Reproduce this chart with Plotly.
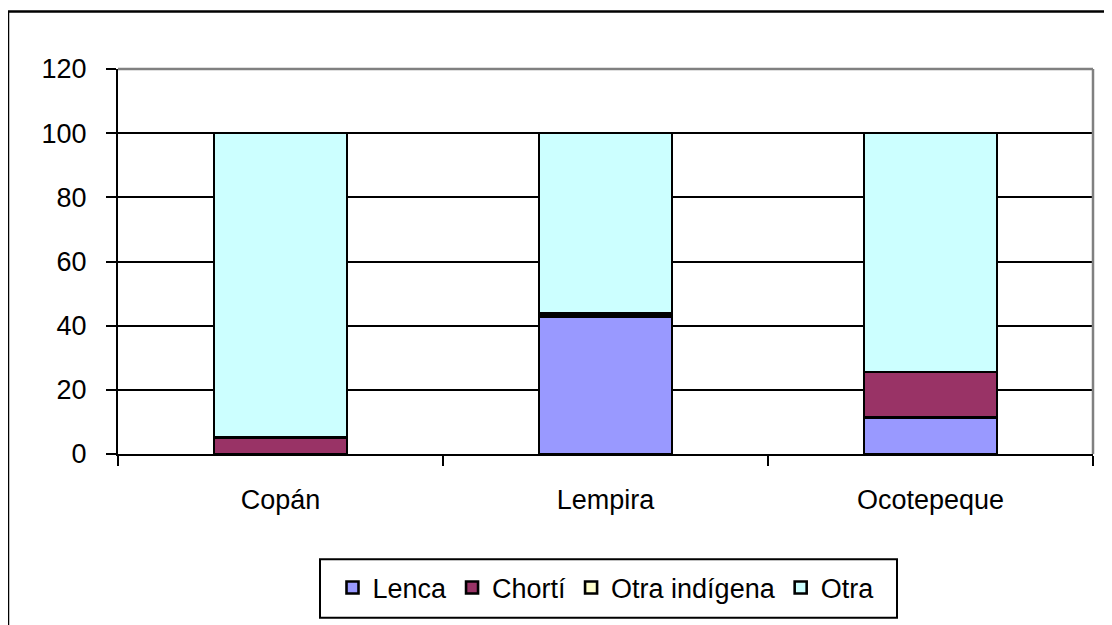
import plotly.graph_objects as go

categories = ["Copán", "Lempira", "Ocotepeque"]
series_names = ["Lenca", "Chortí", "Otra indígena", "Otra"]
lenca = [0, 42.8, 11.4]
chorti = [5.2, 1.0, 14.2]
otra_indigena = [0, 0, 0]
otra = [94.8, 56.2, 74.4]
y_ticks = [0, 20, 40, 60, 80, 100, 120]
colors = ["#9999FF", "#993366", "#FFFFCC", "#CCFFFF"]

OFF = 8  # page body margin
W, H = 1104, 617
# plot area in page pixels: left 118, right 1093, top 69, bottom 457
L, T = 118 - OFF, 69 - OFF
R = W - (1093 - OFF)
B = H - (457 - OFF)
pw, ph = W - L - R, H - T - B

def px_x(p):  # page pixel -> paper
    return (p - OFF - L) / pw

def px_y(p):
    return (H - B - (p - OFF)) / ph

fig = go.Figure()
for name, vals, col in zip(series_names, [lenca, chorti, otra_indigena, otra], colors):
    fig.add_trace(go.Bar(
        x=categories, y=vals, name=name,
        marker=dict(color=col, line=dict(color="black", width=2.6)),
        width=0.41,
    ))

font_family = "Arial, Liberation Sans, sans-serif"
FS = 27
fig.update_layout(
    width=W, height=H,
    margin=dict(l=L, r=R, t=T, b=B),
    barmode="stack",
    paper_bgcolor="white", plot_bgcolor="white",
    font=dict(family=font_family, size=FS, color="black"),
    showlegend=True,
    legend=dict(
        orientation="h", x=px_x(606), xanchor="center", y=px_y(592), yanchor="middle",
        borderwidth=0, bgcolor="rgba(0,0,0,0)", font=dict(size=FS, family=font_family),
        traceorder="normal",
    ),
    xaxis=dict(
        type="category", showgrid=False, showline=True, linecolor="black", linewidth=2,
        ticks="outside", tickson="boundaries", ticklen=10, tickwidth=2, tickcolor="black",
        ticklabelstandoff=21, tickfont=dict(size=FS),
    ),
    yaxis=dict(
        range=[0, 120], tickvals=y_ticks, showgrid=True, gridcolor="black", gridwidth=2,
        showline=True, linecolor="black", linewidth=2, zeroline=False,
        ticks="outside", ticklen=10, tickwidth=2, tickcolor="black",
        ticklabelstandoff=14, tickfont=dict(size=FS),
    ),
    shapes=[
        dict(type="line", xref="paper", yref="paper", x0=0, x1=1, y0=1, y1=1,
             line=dict(color="#808080", width=2.5)),
        dict(type="line", xref="paper", yref="paper", x0=1, x1=1, y0=0, y1=1,
             line=dict(color="#808080", width=2.5)),
        # outer chart border
        dict(type="rect", xref="paper", yref="paper",
             x0=px_x(8), x1=px_x(1125), y0=px_y(11), y1=px_y(640),
             line=dict(color="black", width=2.5), fillcolor="rgba(0,0,0,0)", layer="above"),
        # legend box
        dict(type="rect", xref="paper", yref="paper",
             x0=px_x(320), x1=px_x(897), y0=px_y(563), y1=px_y(622),
             line=dict(color="black", width=2), fillcolor="rgba(0,0,0,0)", layer="above"),
    ],
)

fig.write_html("out.html")
